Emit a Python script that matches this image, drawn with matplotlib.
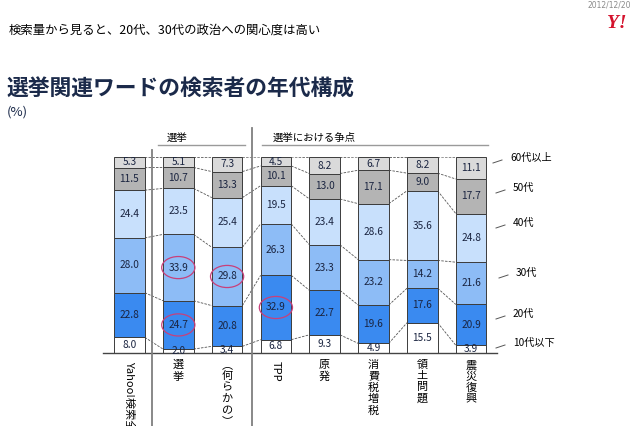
import numpy as np
import matplotlib
matplotlib.use("Agg")
import matplotlib.pyplot as plt
from matplotlib.patches import Ellipse
from matplotlib.lines import Line2D

plt.rcParams['font.family'] = ['Noto Sans CJK JP', 'DejaVu Sans']

# search keywords (columns)
categories = ['Yahoo!検索全体', '選挙', '(何らかの)政党', 'TPP', '原発',
              '消費税増税', '領土問題', '震災復興']
# age groups, bottom to top
age_groups = ['10代以下', '20代', '30代', '40代', '50代', '60代以上']
teens = [8.0, 2.0, 3.4, 6.8, 9.3, 4.9, 15.5, 3.9]
twenties = [22.8, 24.7, 20.8, 32.9, 22.7, 19.6, 17.6, 20.9]
thirties = [28.0, 33.9, 29.8, 26.3, 23.3, 23.2, 14.2, 21.6]
forties = [24.4, 23.5, 25.4, 19.5, 23.4, 28.6, 35.6, 24.8]
fifties = [11.5, 10.7, 13.3, 10.1, 13.0, 17.1, 9.0, 17.7]
sixties = [5.3, 5.1, 7.3, 4.5, 8.2, 6.7, 8.2, 11.1]
series = [teens, twenties, thirties, forties, fifties, sixties]
# values circled in red: (column, age group)
highlighted = [(1, '30代'), (1, '20代'), (2, '30代'), (3, '20代')]

colors = ['#ffffff', '#3a8af0', '#8dbcf6', '#c8e0fc', '#b4b4b4', '#dadada']
navy = '#1a2440'

W, H = 640, 426
fig = plt.figure(figsize=(W / 100, H / 100), dpi=100)


def px(x, y):
    # image pixel -> figure fraction
    return x / W, 1 - y / H


# axes placed so that column centres / baseline land where the original has them
x0, dx = 129.5, 48.8
y0, dy = 353.0, 1.957
xlo, xhi = -0.7, 7.7
ax = fig.add_axes([(x0 + xlo * dx) / W, (H - y0) / H,
                   (xhi - xlo) * dx / W, 100 * dy / H])
ax.set_xlim(xlo, xhi)
ax.set_ylim(0, 100)
ax.axis('off')

x = np.arange(len(categories))
bw = 0.625
bottoms = np.zeros(len(categories))
levels = []
mids = {}
for k, grp in enumerate(age_groups):
    vals = np.array(series[k])
    ax.bar(x, vals, bottom=bottoms, width=bw, color=colors[k],
           edgecolor='#3c3c3c', linewidth=0.7, zorder=3)
    for xi, v, b in zip(x, vals, bottoms):
        ax.text(xi, b + v / 2, f'{v:.1f}', ha='center', va='center',
                fontsize=7.3, color=navy, zorder=5)
    mids[grp] = bottoms + vals / 2
    bottoms = bottoms + vals
    levels.append(bottoms.copy())

# series lines between neighbouring columns
for lev in levels:
    for i in range(len(x) - 1):
        ax.plot([x[i] + bw / 2, x[i + 1] - bw / 2], [lev[i], lev[i + 1]],
                color='#555555', lw=0.6, ls=(0, (3, 1.5)), zorder=2)

ax.plot([-0.543, 7.53], [0, 0], color='#444444', lw=1.0, clip_on=False,
        zorder=4)

for col, grp in highlighted:
    ax.add_patch(Ellipse((x[col], mids[grp][col]), 0.68, 11.3, fill=False,
                         ec='#c8407a', lw=0.9, zorder=6))

# group separators and headers
for xs, ys in [(152.3, 150), (252.3, 128)]:
    fig.add_artist(Line2D([xs / W, xs / W], [1 - ys / H, 0],
                          color='#7f7f7f', lw=1.3))
for xa, xb in [(158, 245), (262, 488)]:
    fig.add_artist(Line2D([xa / W, xb / W], [1 - 145 / H] * 2,
                          color='#9a9a9a', lw=1.0))
fig.text(*px(177, 137.5), '選挙', ha='center', va='center', fontsize=7.5)
fig.text(*px(314, 137.5), '選挙における争点', ha='center', va='center',
         fontsize=7.5)

# legend labels on the right
leg_pos = [(513, 343), (513, 314), (516, 273), (513, 223), (513, 188),
           (510, 158)]
for grp, (lx, ly) in zip(age_groups, leg_pos):
    fig.text(*px(lx, ly), grp, ha='left', va='center', fontsize=7.3)
    fig.add_artist(Line2D([(lx - 17) / W, (lx - 8) / W],
                          [1 - (ly + 5) / H, 1 - (ly + 2) / H],
                          color='#555555', lw=0.7))

# vertical category labels (the bottom of the longer ones runs off the page)
for xi, cat in zip(x, categories):
    cx = x0 + xi * dx
    if cat in ('Yahoo!検索全体', 'TPP'):
        fig.text(*px(cx, 361), cat, rotation=270, ha='center', va='top',
                 fontsize=8)
    else:
        txt = cat.replace('(', '︵').replace(')', '︶')
        fig.text(*px(cx, 360), '\n'.join(txt), ha='center', va='top',
                 fontsize=8, linespacing=1.15)

# titles
fig.text(*px(9, 30), '検索量から見ると、20代、30代の政治への関心度は高い',
         ha='left', va='center', fontsize=8.9)
fig.text(*px(7, 89), '選挙関連ワードの検索者の年代構成', ha='left',
         va='center', fontsize=15.7, fontweight='bold', color='#1b2a4a')
fig.text(*px(7, 112), '(%)', ha='left', va='center', fontsize=9.5,
         color='#1b2a4a')
fig.text(*px(631, 5), '2012/12/20', ha='right', va='center', fontsize=5.5,
         color='#8a8a8a', family='DejaVu Sans')
fig.text(*px(617, 23), 'Y!', ha='center', va='center', fontsize=14,
         fontweight='bold', style='italic', color='#d4122c',
         family='Liberation Serif')

fig.savefig('out.png', dpi=100)
